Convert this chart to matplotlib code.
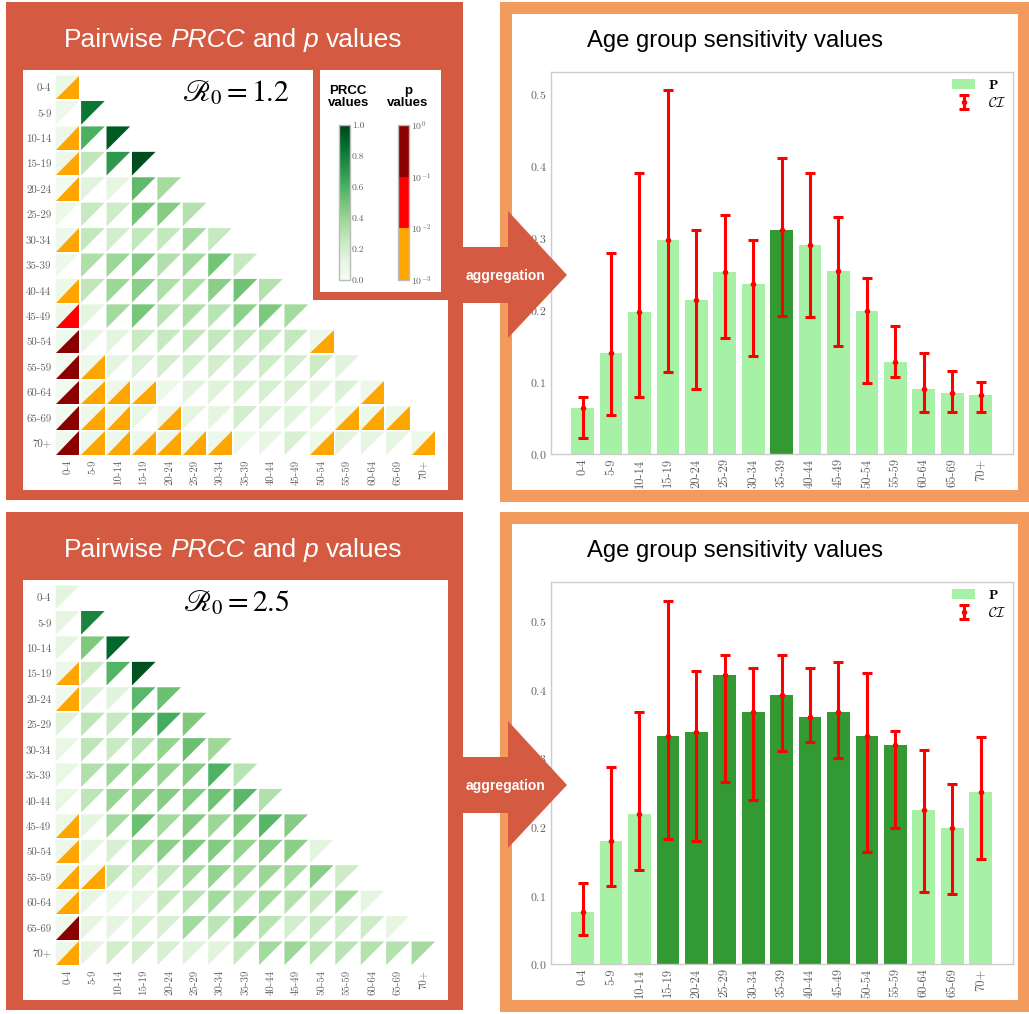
import numpy as np
import matplotlib
matplotlib.use("Agg")
import matplotlib.pyplot as plt
from matplotlib.patches import Rectangle, Polygon
from matplotlib.collections import PolyCollection
from matplotlib.colors import ListedColormap, BoundaryNorm, Normalize
from matplotlib.cm import ScalarMappable

plt.rcParams.update({
    "font.family": "serif",
    "font.serif": ["cmr10"],
    "mathtext.fontset": "cm",
    "axes.unicode_minus": False,
    "axes.formatter.use_mathtext": True,
})

AGE_GROUPS = ["0-4", "5-9", "10-14", "15-19", "20-24", "25-29", "30-34", "35-39",
              "40-44", "45-49", "50-54", "55-59", "60-64", "65-69", "70+"]

# ---------------- R0 = 1.2 ----------------
PRCC_R12 = [
    [0.10],
    [0.07, 0.83],
    [0.07, 0.60, 0.93],
    [0.07, 0.27, 0.70, 0.97],
    [0.04, 0.14, 0.11, 0.55, 0.36],
    [0.08, 0.25, 0.22, 0.50, 0.45, 0.31],
    [0.08, 0.26, 0.20, 0.26, 0.26, 0.37, 0.25],
    [0.06, 0.33, 0.39, 0.46, 0.32, 0.37, 0.50, 0.25],
    [0.08, 0.27, 0.39, 0.44, 0.33, 0.33, 0.44, 0.51, 0.31],
    [0.08, 0.13, 0.37, 0.49, 0.30, 0.33, 0.30, 0.43, 0.48, 0.37],
    [0.05, 0.11, 0.13, 0.24, 0.25, 0.27, 0.26, 0.26, 0.26, 0.26, 0.07],
    [0.04, 0.06, 0.12, 0.17, 0.20, 0.20, 0.20, 0.22, 0.22, 0.20, 0.23, 0.14],
    [0.04, 0.06, 0.07, 0.06, 0.06, 0.14, 0.15, 0.18, 0.18, 0.18, 0.14, 0.17, 0.07],
    [0.04, 0.06, 0.06, 0.09, 0.07, 0.12, 0.12, 0.20, 0.15, 0.15, 0.12, 0.08, 0.08, 0.08],
    [0.05, 0.07, 0.07, 0.07, 0.07, 0.07, 0.07, 0.08, 0.11, 0.18, 0.08, 0.14, 0.11, 0.11, 0.08],
]
PVAL_R12 = [
    [0.005],
    [1e-4, 1e-4],
    [0.005, 1e-4, 1e-4],
    [0.005, 1e-4, 1e-4, 1e-4],
    [0.005, 1e-4, 1e-4, 1e-4, 1e-4],
    [1e-4, 1e-4, 1e-4, 1e-4, 1e-4, 1e-4],
    [0.005, 1e-4, 1e-4, 1e-4, 1e-4, 1e-4, 1e-4],
    [1e-4, 1e-4, 1e-4, 1e-4, 1e-4, 1e-4, 1e-4, 1e-4],
    [0.005, 1e-4, 1e-4, 1e-4, 1e-4, 1e-4, 1e-4, 1e-4, 1e-4],
    [0.03, 1e-4, 1e-4, 1e-4, 1e-4, 1e-4, 1e-4, 1e-4, 1e-4, 1e-4],
    [0.3, 1e-4, 1e-4, 1e-4, 1e-4, 1e-4, 1e-4, 1e-4, 1e-4, 1e-4, 0.005],
    [0.3, 0.005, 1e-4, 1e-4, 1e-4, 1e-4, 1e-4, 1e-4, 1e-4, 1e-4, 1e-4, 1e-4],
    [0.3, 0.005, 0.005, 0.005, 1e-4, 1e-4, 1e-4, 1e-4, 1e-4, 1e-4, 1e-4, 1e-4, 0.005],
    [0.3, 0.005, 0.005, 1e-4, 0.005, 1e-4, 1e-4, 1e-4, 1e-4, 1e-4, 1e-4, 0.005, 0.005, 0.005],
    [0.3, 0.005, 0.005, 0.005, 0.005, 0.005, 0.005, 1e-4, 1e-4, 1e-4, 0.005, 1e-4, 1e-4, 1e-4, 0.005],
]
P_R12 = [0.064, 0.140, 0.197, 0.297, 0.214, 0.253, 0.236, 0.311, 0.290, 0.254, 0.199, 0.128, 0.090, 0.085, 0.082]
CI_LOW_R12 = [0.023, 0.054, 0.079, 0.114, 0.090, 0.162, 0.137, 0.192, 0.190, 0.151, 0.099, 0.107, 0.059, 0.059, 0.059]
CI_HIGH_R12 = [0.079, 0.279, 0.390, 0.506, 0.311, 0.332, 0.298, 0.411, 0.391, 0.330, 0.245, 0.178, 0.141, 0.115, 0.101]
HIGHLIGHT_R12 = [False, False, False, False, False, False, False, True,
                 False, False, False, False, False, False, False]

# ---------------- R0 = 2.5 ----------------
PRCC_R25 = [
    [0.13],
    [0.12, 0.78],
    [0.12, 0.47, 0.89],
    [0.07, 0.23, 0.58, 0.96],
    [0.05, 0.17, 0.14, 0.56, 0.52],
    [0.15, 0.28, 0.25, 0.54, 0.62, 0.47],
    [0.10, 0.28, 0.24, 0.30, 0.41, 0.52, 0.38],
    [0.10, 0.32, 0.39, 0.43, 0.41, 0.45, 0.59, 0.30],
    [0.10, 0.28, 0.40, 0.43, 0.45, 0.46, 0.51, 0.56, 0.32],
    [0.08, 0.13, 0.37, 0.52, 0.37, 0.46, 0.39, 0.47, 0.57, 0.45],
    [0.07, 0.11, 0.18, 0.39, 0.44, 0.47, 0.46, 0.41, 0.45, 0.44, 0.13],
    [0.07, 0.06, 0.25, 0.20, 0.25, 0.37, 0.41, 0.37, 0.39, 0.36, 0.44, 0.23],
    [0.07, 0.11, 0.08, 0.11, 0.25, 0.30, 0.37, 0.31, 0.37, 0.31, 0.25, 0.37, 0.12],
    [0.05, 0.11, 0.12, 0.18, 0.18, 0.37, 0.28, 0.41, 0.30, 0.20, 0.25, 0.22, 0.23, 0.11],
    [0.07, 0.12, 0.20, 0.20, 0.18, 0.15, 0.14, 0.25, 0.37, 0.39, 0.30, 0.30, 0.31, 0.31, 0.36],
]
PVAL_R25 = [
    [1e-4],
    [1e-4, 1e-4],
    [1e-4, 1e-4, 1e-4],
    [0.005, 1e-4, 1e-4, 1e-4],
    [0.005, 1e-4, 1e-4, 1e-4, 1e-4],
    [1e-4, 1e-4, 1e-4, 1e-4, 1e-4, 1e-4],
    [1e-4, 1e-4, 1e-4, 1e-4, 1e-4, 1e-4, 1e-4],
    [1e-4, 1e-4, 1e-4, 1e-4, 1e-4, 1e-4, 1e-4, 1e-4],
    [1e-4, 1e-4, 1e-4, 1e-4, 1e-4, 1e-4, 1e-4, 1e-4, 1e-4],
    [0.005, 1e-4, 1e-4, 1e-4, 1e-4, 1e-4, 1e-4, 1e-4, 1e-4, 1e-4],
    [0.005, 1e-4, 1e-4, 1e-4, 1e-4, 1e-4, 1e-4, 1e-4, 1e-4, 1e-4, 1e-4],
    [0.005, 0.005, 1e-4, 1e-4, 1e-4, 1e-4, 1e-4, 1e-4, 1e-4, 1e-4, 1e-4, 1e-4],
    [0.005, 1e-4, 1e-4, 1e-4, 1e-4, 1e-4, 1e-4, 1e-4, 1e-4, 1e-4, 1e-4, 1e-4, 1e-4],
    [0.3, 1e-4, 1e-4, 1e-4, 1e-4, 1e-4, 1e-4, 1e-4, 1e-4, 1e-4, 1e-4, 1e-4, 1e-4, 1e-4],
    [0.005, 1e-4, 1e-4, 1e-4, 1e-4, 1e-4, 1e-4, 1e-4, 1e-4, 1e-4, 1e-4, 1e-4, 1e-4, 1e-4, 1e-4],
]
P_R25 = [0.076, 0.180, 0.219, 0.332, 0.339, 0.422, 0.368, 0.392, 0.360, 0.368, 0.332, 0.320, 0.225, 0.199, 0.251]
CI_LOW_R25 = [0.043, 0.114, 0.137, 0.183, 0.180, 0.266, 0.239, 0.311, 0.324, 0.301, 0.164, 0.198, 0.106, 0.102, 0.154]
CI_HIGH_R25 = [0.118, 0.287, 0.367, 0.530, 0.427, 0.451, 0.432, 0.451, 0.432, 0.441, 0.424, 0.340, 0.312, 0.263, 0.331]
HIGHLIGHT_R25 = [False, False, False, True, True, True, True, True,
                 True, True, True, True, False, False, False]

R0_LABELS = [r"$\mathscr{R}_0 = 1.2$", r"$\mathscr{R}_0 = 2.5$"]
P_BOUNDS = [1e-3, 1e-2, 1e-1, 1e0]
P_COLORS = ["orange", "red", "darkred"]

# ---------------- styling ----------------
W, H = 1029, 1014
RED = "#D55A42"
ORANGE = "#F29B5C"
LIGHT = "#A6F1A6"
DARK = "#339933"
TICKC = "0.38"
SANS = "Liberation Sans"

fig = plt.figure(figsize=(W / 100, H / 100), dpi=100)
fig.patch.set_facecolor("white")


def fx(x):
    return x / W


def fy(y):
    return 1 - y / H


def rect(x0, y0, x1, y1, color, z):
    fig.add_artist(Rectangle((fx(x0), fy(y1)), (x1 - x0) / W, (y1 - y0) / H,
                             transform=fig.transFigure, facecolor=color,
                             edgecolor="none", zorder=z))


def axes_px(x0, y0, x1, y1, **kw):
    return fig.add_axes([fx(x0), fy(y1), (x1 - x0) / W, (y1 - y0) / H], **kw)


pcmap = ListedColormap(P_COLORS)
pcmap_tri = ListedColormap(P_COLORS)
pcmap_tri.set_under((1, 1, 1, 0))
pnorm = BoundaryNorm(P_BOUNDS, pcmap.N)
greens = plt.get_cmap("Greens")


def draw_matrix(ax, prcc, pvals):
    s = 0.465
    up, lo, cu, cl = [], [], [], []
    for i, row in enumerate(prcc):
        for j, v in enumerate(row):
            x0, x1, y0, y1 = j - s, j + s, i - s, i + s
            up.append([(x0, y0), (x1, y0), (x0, y1)])
            lo.append([(x1, y0), (x1, y1), (x0, y1)])
            cu.append(greens(v))
            cl.append(pcmap_tri(pnorm(pvals[i][j])))
    ax.add_collection(PolyCollection(up, facecolors=cu, edgecolors="none", linewidths=0))
    ax.add_collection(PolyCollection(lo, facecolors=cl, edgecolors="none", linewidths=0))
    n = len(prcc)
    ax.set_xlim(-0.5, n - 0.5)
    ax.set_ylim(n - 0.5, -0.5)
    ax.set_xticks(range(n))
    ax.set_yticks(range(n))
    ax.set_xticklabels(AGE_GROUPS, rotation=90)
    ax.set_yticklabels(AGE_GROUPS)
    ax.tick_params(length=0, pad=2.5, labelsize=7.8, labelcolor=TICKC)
    for sp in ax.spines.values():
        sp.set_visible(False)
    ax.set_facecolor("none")


def draw_bars(ax, vals, low, high, hl, ymax):
    x = np.arange(len(vals))
    vals = np.array(vals)
    colors = [DARK if h else LIGHT for h in hl]
    ax.bar(x, vals, width=0.8, color=colors, label=r"$\mathbf{P}$", zorder=2)
    ax.errorbar(x, vals, yerr=[vals - np.array(low), np.array(high) - vals],
                fmt="o", color="red", ms=3, lw=2.2, capsize=3.5, capthick=2.2,
                label=r"$\mathcal{CI}$", zorder=3)
    ax.set_xlim(-1.13, len(vals) - 1 + 1.14)
    ax.set_ylim(0, ymax)
    ax.set_yticks([0, 0.1, 0.2, 0.3, 0.4, 0.5])
    ax.set_xticks(x)
    ax.set_xticklabels(AGE_GROUPS, rotation=90)
    ax.tick_params(length=0, pad=3, labelcolor=TICKC)
    ax.tick_params(axis="x", labelsize=9)
    ax.tick_params(axis="y", labelsize=8.5)
    for sp in ax.spines.values():
        sp.set_color("#cccccc")
        sp.set_linewidth(1)
    ax.legend(loc="upper right", frameon=False, fontsize=10, handlelength=1.7,
              borderaxespad=0.1, labelspacing=0.3, handletextpad=0.9)


renderer = fig.canvas.get_renderer()


def rich_title(parts, cx, base_y, size, color):
    texts = [fig.text(0, 0, s, fontsize=size, color=color, family=SANS, style=st,
                      va="baseline", ha="left", zorder=8) for s, st in parts]
    widths = [t.get_window_extent(renderer).width for t in texts]
    gap = 0.278 * size * 100 / 72
    total = sum(widths) + gap * (len(parts) - 1)
    xx = cx - total / 2
    for t, w in zip(texts, widths):
        t.set_position((fx(xx), fy(base_y)))
        xx += w + gap


panels = [
    (0, PRCC_R12, PVAL_R12, P_R12, CI_LOW_R12, CI_HIGH_R12, HIGHLIGHT_R12, R0_LABELS[0], 0.5306, True),
    (510, PRCC_R25, PVAL_R25, P_R25, CI_LOW_R25, CI_HIGH_R25, HIGHLIGHT_R25, R0_LABELS[1], 0.557, False),
]

for dy, prcc, pv, pvals, lo, hi, hl, r0, ymax, with_cbar in panels:
    # left red panel
    rect(6, 2 + dy, 463, 500 + dy, RED, -5)
    rect(23, 70 + dy, 448, 490 + dy, "white", -4)
    if with_cbar:
        rect(313, 2 + dy, 463, 300 + dy, RED, -3)
        rect(320, 70 + dy, 441, 292 + dy, "white", -2)
    rich_title([("Pairwise", "normal"), ("PRCC", "italic"), ("and", "normal"),
                ("p", "italic"), ("values", "normal")], 233, 47 + dy, 19, "white")

    axm = axes_px(54.8, 74.7 + dy, 436.1, 456 + dy)
    draw_matrix(axm, prcc, pv)
    fig.text(fx(236), fy(93 + dy), r0, fontsize=21.5, math_fontfamily="stix",
             ha="center", va="center", color="black", zorder=8)

    if with_cbar:
        cax1 = axes_px(339.3, 125 + dy, 350, 280 + dy)
        cb1 = fig.colorbar(ScalarMappable(norm=Normalize(0, 1), cmap=greens), cax=cax1)
        cb1.set_ticks([0, 0.2, 0.4, 0.6, 0.8, 1.0], labels=["0.0", "0.2", "0.4", "0.6", "0.8", "1.0"])
        cax2 = axes_px(398.3, 125 + dy, 409.3, 280 + dy)
        cb2 = fig.colorbar(ScalarMappable(norm=pnorm, cmap=pcmap), cax=cax2)
        cb2.set_ticks(P_BOUNDS, labels=[r"$10^{-3}$", r"$10^{-2}$", r"$10^{-1}$", r"$10^{0}$"])
        for cb in (cb1, cb2):
            cb.outline.set_edgecolor("#bbbbbb")
            cb.outline.set_linewidth(1)
            cb.ax.tick_params(length=0, labelsize=7, labelcolor=TICKC, pad=1.5)
        fig.text(fx(348.3), fy(97 + dy), "PRCC\nvalues", fontsize=9.5, weight="bold",
                 family=SANS, ha="center", va="center", linespacing=1.05, zorder=8)
        fig.text(fx(407.7), fy(97 + dy), "p\nvalues", fontsize=9.5, weight="bold",
                 family=SANS, ha="center", va="center", linespacing=1.05, zorder=8)

    # right orange panel
    axb = axes_px(550.5, 72 + dy, 1013, 454.3 + dy)
    draw_bars(axb, pvals, lo, hi, hl, ymax)
    rect(500, 2 + dy, 1029, 14 + dy, ORANGE, 5)
    rect(500, 490 + dy, 1029, 502 + dy, ORANGE, 5)
    rect(500, 2 + dy, 512, 502 + dy, ORANGE, 5)
    rect(1018, 2 + dy, 1029, 502 + dy, ORANGE, 5)
    fig.text(fx(735), fy(47 + dy), "Age group sensitivity values", fontsize=17.2,
             family=SANS, color="black", ha="center", va="baseline", zorder=8)

    # arrow
    arrow_px = [(463, 247), (508, 247), (508, 211), (567, 275), (508, 338), (508, 303), (463, 303)]
    fig.add_artist(Polygon([(fx(px), fy(py + dy)) for px, py in arrow_px], closed=True,
                           transform=fig.transFigure, facecolor=RED, edgecolor="none", zorder=6))
    fig.text(fx(506), fy(276 + dy), "aggregation", fontsize=10, weight="bold", family=SANS,
             color="white", ha="center", va="center", zorder=7)

fig.savefig("out.png", dpi=100)
